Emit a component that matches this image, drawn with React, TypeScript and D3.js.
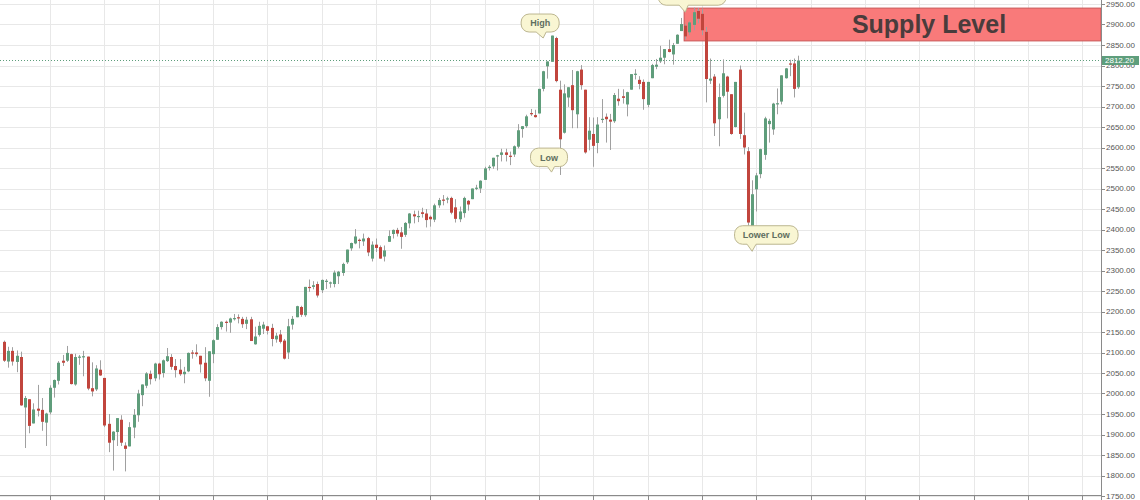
import * as d3 from "d3";

// weekly S&P 500 candles, first bar = week of 2015-07-20
const startWeek = "2015-07-20";
const weekCount = 263; // bars + empty future weeks up to the price scale

const opens = [
  2126, 2078, 2104, 2077, 2089, 1966, 1986, 1927, 1963, 1960, 1929, 1954, 2014, 2031, 2080, 2080, 2096, 2022, 2089, 2090,
  2090, 2013, 2010, 2058, 2038, 1926, 1886, 1906, 1936, 1873, 1871, 1917, 1947, 1996, 2019, 2048, 2037, 2073, 2050, 2079,
  2089, 2067, 2058, 2047, 2054, 2100, 2100, 2092, 2075, 2031, 2096, 2131, 2162, 2175, 2173, 2183, 2186, 2182, 2170, 2181,
  2120, 2143, 2158, 2164, 2160, 2132, 2144, 2129, 2100, 2168, 2186, 2211, 2191, 2260, 2260, 2267, 2252, 2273, 2269, 2267,
  2286, 2294, 2320, 2354, 2366, 2375, 2371, 2379, 2329, 2363, 2357, 2334, 2370, 2389, 2399, 2393, 2387, 2415, 2437, 2432,
  2442, 2439, 2431, 2424, 2459, 2473, 2475, 2477, 2454, 2425, 2440, 2470, 2474, 2502, 2500, 2521, 2551, 2554, 2580, 2582,
  2588, 2580, 2583, 2602, 2645, 2652, 2684, 2679, 2683, 2743, 2798, 2809, 2867, 2741, 2636, 2722, 2752, 2681, 2790, 2741,
  2619, 2633, 2611, 2670, 2675, 2668, 2664, 2719, 2725, 2705, 2741, 2780, 2765, 2760, 2704, 2769, 2797, 2810, 2819, 2840,
  2827, 2853, 2884, 2897, 2881, 2899, 2933, 2926, 2882, 2763, 2773, 2669, 2726, 2773, 2730, 2650, 2790, 2630, 2591, 2401,
  2498, 2535, 2582, 2657, 2644, 2706, 2712, 2769, 2805, 2805, 2747,
];
const highs = [
  2129, 2114, 2113, 2105, 2102, 1994, 1986, 1976, 2021, 1989, 1953, 2020, 2034, 2079, 2094, 2116, 2097, 2097, 2094, 2104,
  2090, 2076, 2069, 2081, 2038, 1950, 1908, 1940, 1947, 1881, 1930, 1962, 2009, 2022, 2052, 2056, 2075, 2075, 2083, 2111,
  2096, 2084, 2084, 2065, 2100, 2106, 2120, 2092, 2113, 2103, 2132, 2169, 2176, 2178, 2185, 2194, 2193, 2187, 2187, 2187,
  2163, 2175, 2175, 2165, 2170, 2148, 2155, 2133, 2182, 2189, 2214, 2214, 2260, 2278, 2274, 2273, 2278, 2279, 2273, 2300,
  2299, 2319, 2351, 2368, 2401, 2378, 2390, 2382, 2371, 2378, 2361, 2361, 2398, 2400, 2404, 2406, 2418, 2440, 2446, 2446,
  2453, 2450, 2434, 2463, 2477, 2484, 2480, 2480, 2474, 2456, 2480, 2472, 2500, 2509, 2520, 2553, 2557, 2575, 2582, 2597,
  2597, 2590, 2605, 2657, 2652, 2680, 2694, 2692, 2743, 2787, 2810, 2873, 2870, 2763, 2754, 2747, 2789, 2787, 2801, 2741,
  2674, 2673, 2674, 2718, 2683, 2682, 2733, 2743, 2742, 2736, 2779, 2791, 2774, 2766, 2760, 2804, 2816, 2848, 2840, 2863,
  2855, 2876, 2916, 2900, 2908, 2941, 2940, 2939, 2894, 2817, 2779, 2756, 2815, 2775, 2730, 2760, 2800, 2685, 2601, 2520,
  2538, 2597, 2675, 2670, 2709, 2744, 2776, 2794, 2814, 2817, 2824,
];
const lows = [
  2077, 2063, 2068, 2052, 1970, 1867, 1903, 1927, 1944, 1909, 1872, 1949, 1990, 2022, 2067, 2077, 2022, 2019, 2070, 2042,
  2008, 1993, 2006, 2043, 1918, 1857, 1812, 1872, 1872, 1810, 1871, 1891, 1931, 1969, 2013, 2022, 2030, 2034, 2039, 2077,
  2058, 2039, 2043, 2025, 2052, 2085, 2090, 2051, 2030, 1992, 2074, 2131, 2156, 2151, 2148, 2178, 2171, 2160, 2157, 2128,
  2119, 2139, 2145, 2144, 2115, 2124, 2122, 2083, 2084, 2156, 2186, 2187, 2187, 2248, 2254, 2234, 2245, 2255, 2258, 2259,
  2267, 2287, 2316, 2348, 2364, 2354, 2360, 2335, 2322, 2345, 2329, 2322, 2370, 2378, 2383, 2353, 2382, 2403, 2415, 2418,
  2429, 2405, 2407, 2418, 2453, 2459, 2464, 2437, 2417, 2418, 2429, 2446, 2474, 2496, 2489, 2521, 2544, 2548, 2544, 2566,
  2566, 2557, 2577, 2598, 2624, 2648, 2677, 2673, 2683, 2737, 2768, 2809, 2759, 2533, 2634, 2699, 2647, 2647, 2741, 2585,
  2593, 2553, 2586, 2660, 2612, 2594, 2660, 2702, 2707, 2676, 2741, 2766, 2742, 2692, 2698, 2769, 2791, 2806, 2803, 2832,
  2802, 2853, 2884, 2864, 2874, 2886, 2903, 2874, 2710, 2755, 2628, 2603, 2722, 2671, 2631, 2649, 2621, 2583, 2409, 2347,
  2444, 2525, 2570, 2612, 2631, 2681, 2705, 2768, 2774, 2722, 2743,
];
const closes = [
  2080, 2104, 2078, 2092, 1971, 1989, 1921, 1961, 1958, 1931, 1951, 2014, 2033, 2075, 2075, 2099, 2023, 2089, 2090, 2091,
  2012, 2005, 2061, 2044, 1922, 1880, 1907, 1940, 1880, 1865, 1918, 1948, 2000, 2022, 2049, 2035, 2073, 2047, 2081, 2091,
  2065, 2057, 2047, 2053, 2099, 2099, 2096, 2071, 2037, 2103, 2130, 2162, 2175, 2174, 2183, 2184, 2184, 2169, 2180, 2128,
  2139, 2165, 2168, 2153, 2133, 2141, 2126, 2085, 2164, 2182, 2213, 2192, 2260, 2259, 2264, 2239, 2277, 2275, 2271, 2295,
  2297, 2316, 2351, 2367, 2383, 2372, 2378, 2344, 2363, 2355, 2329, 2349, 2384, 2399, 2390, 2382, 2416, 2439, 2432, 2433,
  2438, 2423, 2425, 2459, 2472, 2472, 2476, 2441, 2426, 2444, 2477, 2461, 2500, 2502, 2519, 2549, 2553, 2575, 2581, 2588,
  2582, 2579, 2603, 2642, 2652, 2676, 2683, 2674, 2743, 2786, 2810, 2873, 2762, 2620, 2732, 2747, 2691, 2786, 2752, 2588,
  2641, 2604, 2656, 2670, 2669, 2663, 2728, 2713, 2721, 2735, 2779, 2780, 2755, 2718, 2760, 2801, 2802, 2819, 2840, 2833,
  2850, 2875, 2901, 2871, 2905, 2930, 2914, 2886, 2767, 2768, 2659, 2723, 2781, 2736, 2633, 2760, 2633, 2600, 2417, 2486,
  2532, 2596, 2671, 2665, 2707, 2708, 2776, 2793, 2804, 2743, 2812.2,
];

// quarter grid weeks
const quarterTicks = [
  "2015-10-05", "2016-01-04", "2016-04-04", "2016-07-04", "2016-10-03", "2017-01-02", "2017-04-03",
  "2017-07-03", "2017-10-02", "2018-01-01", "2018-04-02", "2018-07-02", "2018-10-01", "2018-12-31",
  "2019-04-01", "2019-07-01", "2019-09-30", "2019-12-30", "2020-03-30", "2020-06-29",
];
const priceTicks = [
  1750, 1800, 1850, 1900, 1950, 2000, 2050, 2100, 2150, 2200, 2250, 2300, 2350, 2400, 2450, 2500, 2550,
  2600, 2650, 2700, 2750, 2800, 2850, 2900, 2950,
];

const lastPrice = 2812.2;
const supplyStart = "2018-09-03";
const supplyLow = 2860;
const supplyHigh = 2940;
const supplyText = "Supply Level";

// the first callout sits above the top edge, its label is not in view
const noteIds = ["top", "high", "low", "lowerLow"];
const noteTexts = ["", "High", "Low", "Lower Low"];
const noteWeeks = ["2018-09-03", "2018-01-08", "2018-01-22", "2018-12-24"];
const notePrices = [2930, 2867, 2540, 2347];

// bubble geometry relative to the tail tip
const bubbleLayout: Record<string, { dx: number; dy: number; w: number; h: number; t1: number; t2: number }> = {
  top: { dx: -27, dy: -28, w: 68, h: 21, t1: -6, t2: 3 },
  high: { dx: -22, dy: -24, w: 38, h: 18, t1: -7, t2: 3 },
  low: { dx: -21, dy: -24, w: 37, h: 18.5, t1: -4, t2: 3 },
  lowerLow: { dx: -17.5, dy: -25.5, w: 63.5, h: 18.5, t1: -5, t2: 4 },
};

const W = 1140;
const H = 500;
const plotRight = 1101;
const plotBottom = 495;

const fmt = d3.timeFormat("%Y-%m-%d");
const parse = d3.timeParse("%Y-%m-%d");
const weeks = d3.range(weekCount).map((i) => fmt(d3.timeMonday.offset(parse(startWeek)!, i)));

function bubblePath(x: number, y: number, w: number, h: number, r: number, t1: number, t2: number, tx: number, ty: number) {
  const b = y + h;
  return `M${x + r},${y}H${x + w - r}A${r},${r} 0 0 1 ${x + w},${y + r}V${b - r}A${r},${r} 0 0 1 ${x + w - r},${b}` +
    `H${t2}L${tx},${ty}L${t1},${b}H${x + r}A${r},${r} 0 0 1 ${x},${b - r}V${y + r}A${r},${r} 0 0 1 ${x + r},${y}Z`;
}

export default function App() {
  const x = d3.scaleBand<string>().domain(weeks).range([2, plotRight]).padding(0);
  const y = d3.scaleLinear().domain([1750, 2950]).range([496, 4]);
  const cx = (w: string) => (x(w) ?? 0) + x.bandwidth() / 2;

  const candles = opens.map((o, i) => ({
    week: weeks[i],
    o,
    h: highs[i],
    l: lows[i],
    c: closes[i],
  }));

  const zoneX = (x(supplyStart) ?? 0) + 1;

  return (
    <svg
      width={W}
      height={H}
      style={{ position: "absolute", left: 0, top: 0, fontFamily: "'Liberation Sans', Arial, sans-serif" }}
    >
      <rect width={W} height={H} fill="#fff" />

      {/* grid */}
      {priceTicks.map((p) => (
        <line key={p} x1={0} x2={plotRight} y1={Math.round(y(p)) + 0.5} y2={Math.round(y(p)) + 0.5} stroke="#e8e8e8" />
      ))}
      {quarterTicks.map((t) => (
        <line key={t} x1={Math.round(cx(t)) + 0.5} x2={Math.round(cx(t)) + 0.5} y1={0} y2={plotBottom} stroke="#e8e8e8" />
      ))}

      {/* supply zone */}
      <rect
        x={zoneX}
        y={y(supplyHigh)}
        width={plotRight - zoneX}
        height={y(supplyLow) - y(supplyHigh)}
        fill="#f97a7a"
        stroke="#c85555"
      />

      {/* last price line */}
      <line
        x1={0}
        x2={plotRight}
        y1={Math.round(y(lastPrice)) + 0.5}
        y2={Math.round(y(lastPrice)) + 0.5}
        stroke="#5e9e7c"
        strokeDasharray="1,2"
      />

      {/* candles */}
      {candles.map((d) => {
        const xc = Math.round(cx(d.week));
        const up = d.c >= d.o;
        const top = y(Math.max(d.o, d.c));
        const bot = y(Math.min(d.o, d.c));
        return (
          <g key={d.week}>
            <line x1={xc + 0.5} x2={xc + 0.5} y1={y(d.h)} y2={y(d.l)} stroke="#a0a0a0" />
            <rect
              x={xc - 1}
              y={top}
              width={3}
              height={Math.max(1.2, bot - top)}
              fill={up ? "#5f9d7b" : "#c1453d"}
            />
          </g>
        );
      })}

      <text
        x={929}
        y={(y(supplyHigh) + y(supplyLow)) / 2}
        dy="0.35em"
        textAnchor="middle"
        fontSize={25}
        fontWeight="bold"
        fill="#4a3c3c"
      >
        {supplyText}
      </text>

      {/* callouts */}
      {noteIds.map((id, i) => {
        const tx = cx(noteWeeks[i]);
        const ty = y(notePrices[i]);
        const b = bubbleLayout[id];
        const bx = tx + b.dx;
        const by = ty + b.dy;
        return (
          <g key={id}>
            <path
              d={bubblePath(bx, by, b.w, b.h, 8, tx + b.t1, tx + b.t2, tx, ty)}
              fill="#f9f6d3"
              stroke="#bcb690"
            />
            {noteTexts[i] && (
              <text
                x={bx + b.w / 2}
                y={by + b.h / 2}
                dy="0.35em"
                textAnchor="middle"
                fontSize={9}
                fontWeight="bold"
                fill="#5f6e60"
              >
                {noteTexts[i]}
              </text>
            )}
          </g>
        );
      })}

      {/* right axis */}
      <line x1={plotRight + 0.5} x2={plotRight + 0.5} y1={0} y2={H} stroke="#8a8a8a" />
      {priceTicks.map((p) => (
        <g key={p}>
          <line x1={plotRight} x2={plotRight + 4} y1={Math.round(y(p)) + 0.5} y2={Math.round(y(p)) + 0.5} stroke="#8a8a8a" />
          <text x={plotRight + 5} y={y(p)} dy="0.35em" fontSize={8} fill="#555">
            {p.toFixed(2)}
          </text>
        </g>
      ))}
      <rect x={plotRight + 1} y={y(lastPrice) - 4.5} width={37} height={9} fill="#5e9e7c" />
      <text x={plotRight + 4} y={y(lastPrice)} dy="0.35em" fontSize={8} fill="#fff">
        {lastPrice.toFixed(2)}
      </text>

      {/* bottom axis */}
      <line x1={0} x2={plotRight} y1={plotBottom + 0.5} y2={plotBottom + 0.5} stroke="#8a8a8a" />
      {quarterTicks.map((t) => (
        <line
          key={t}
          x1={Math.round(cx(t)) + 0.5}
          x2={Math.round(cx(t)) + 0.5}
          y1={plotBottom}
          y2={plotBottom + 5}
          stroke="#8a8a8a"
        />
      ))}
    </svg>
  );
}
